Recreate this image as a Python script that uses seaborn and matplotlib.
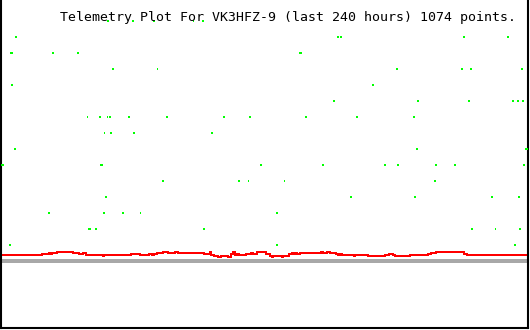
import matplotlib
matplotlib.use("Agg")
import matplotlib.pyplot as plt
import seaborn as sns
import pandas as pd

# ---------------- data ----------------
title = "Telemetry Plot For VK3HFZ-9 (last 240 hours) 1074 points."

# red trace: step changes (hour at which a new level starts, level)
red_hours = [0, 19.0, 22.2, 22.6, 23.5, 25.8, 33.1, 35.8, 37.6, 38.9, 46.6, 47.1,
             59.3, 63.4, 67.5, 68.8, 69.7, 71.1, 73.8, 76.1, 79.2, 80.6, 92.4,
             95.1, 95.5, 96.9, 98.7, 100.1, 103.2, 104.6, 105.5, 106.4, 107.3,
             108.2, 111.4, 113.7, 114.6, 116.4, 120.5, 122.3, 123.2, 123.6,
             127.7, 128.2, 130.9, 132.2, 132.7, 133.6, 134.5, 135.8, 145.4,
             146.3, 148.1, 149.4, 152.2, 153.1, 154.0, 154.9, 160.3, 160.8,
             166.6, 174.3, 176.2, 178.0, 178.9, 185.7, 193.8, 195.2, 197.4,
             210.1, 211.5, 240.0]
red_level = [6, 7, 8, 7, 8, 9, 8, 7, 8, 6, 5, 6,
             7, 6, 7, 6, 7, 8, 9, 8, 9, 8, 7,
             9, 6, 5, 4, 5, 4, 7, 9, 6, 7,
             6, 7, 8, 7, 9, 7, 5, 4, 5,
             4, 5, 7, 8, 7, 8, 7, 8, 9,
             8, 9, 8, 7, 6, 7, 6, 5, 6,
             5, 6, 7, 6, 5, 6, 7, 8, 9,
             7, 6, 6]

# green samples: hours and level
green_hours = [48.9, 60.2, 69.7, 87.8, 91.9,
               7.2, 153.1, 154.4, 210.1, 230.0,
               5.0, 5.4, 24.0, 35.3, 135.8, 136.3,
               51.2, 71.5, 179.8, 209.2, 213.3, 236.4,
               5.4, 168.9,
               151.2, 189.3, 212.4, 232.3, 234.6, 236.8,
               39.8, 45.3, 48.5, 49.8, 58.4, 75.6, 101.4, 113.2, 138.6, 161.7, 187.5,
               47.5, 50.3, 60.7, 96.0,
               6.8, 188.8, 238.2, 238.6,
               0.9, 1.4, 45.7, 46.2, 118.2, 146.3, 174.3, 180.2, 197.4, 206.0, 237.3,
               73.8, 108.2, 112.7, 129.0, 197.0,
               48.0, 158.9, 187.9, 222.8, 235.0,
               22.2, 47.1, 55.7, 63.8, 125.4,
               40.3, 40.8, 43.5, 92.4, 213.7, 224.2, 235.5,
               4.5, 125.4, 233.2]
green_level = ([240] * 5 + [224] * 5 + [208] * 6 + [192] * 6 + [176] * 2 +
               [160] * 6 + [144] * 11 + [128] * 4 + [112] * 4 + [96] * 11 +
               [80] * 5 + [64] * 5 + [48] * 5 + [32] * 7 + [16] * 3)

reference_level = 0

# ---------------- drawing ----------------
sns.set_style("white")
W, H = 530, 330
fig = plt.figure(figsize=(W / 100, H / 100), dpi=100)
ax = fig.add_axes([1 / W, 2 / H, 527 / W, 328 / H])

px_h = 240 / 530
ax.set_xlim(1 * px_h, 528 * px_h)
ax.set_ylim(-67, 261)

ax.axhline(reference_level, color="#a8a8a8", lw=1.55, antialiased=False, zorder=1)

red_df = pd.DataFrame({"hour": red_hours, "level": red_level})
sns.lineplot(data=red_df, x="hour", y="level", ax=ax, color="#ff0000",
             lw=1.3, drawstyle="steps-post", sort=False, estimator=None,
             antialiased=False, zorder=2)

green_df = pd.DataFrame({"hour": green_hours, "level": green_level})
rect = [(-0.5, -1), (0.5, -1), (0.5, 1), (-0.5, 1)]
sns.scatterplot(data=green_df, x="hour", y="level", ax=ax, color="#00ff00",
                marker=rect, s=3.0, linewidth=0, edgecolor="none",
                antialiased=False, zorder=3)

ax.set_xticks([])
ax.set_yticks([])
ax.set_xlabel("")
ax.set_ylabel("")
for side in ["left", "right", "bottom"]:
    ax.spines[side].set_visible(True)
    ax.spines[side].set_color("black")
    ax.spines[side].set_linewidth(1.5)
ax.spines["top"].set_visible(False)

fig.text(60 / W, 1 - 21.5 / H, title, fontsize=9.5, family="DejaVu Sans Mono",
         color="black", ha="left", va="baseline")

fig.savefig("out.png", dpi=100, facecolor="white")
